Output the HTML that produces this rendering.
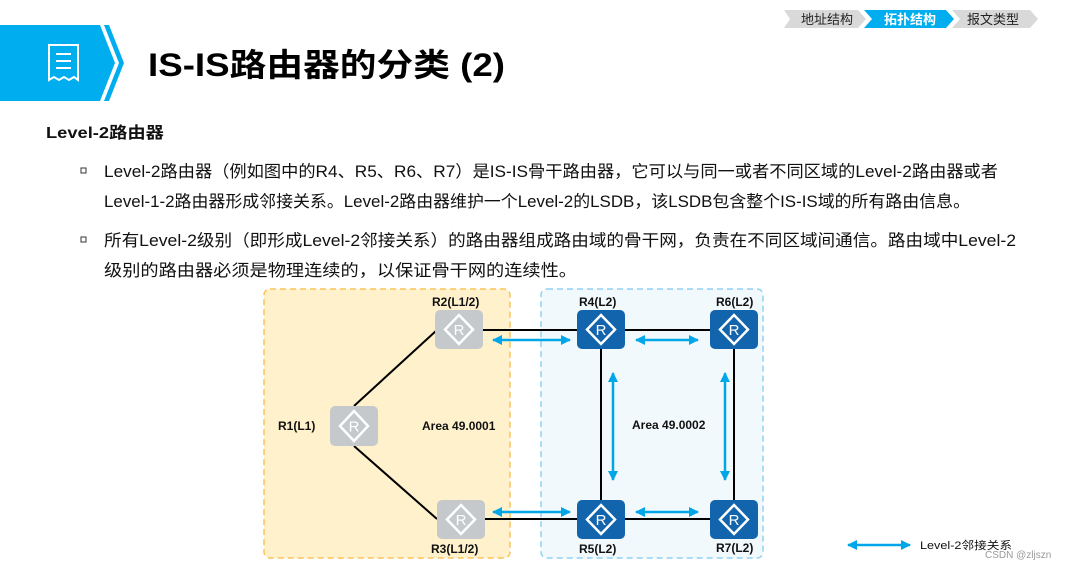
<!DOCTYPE html>
<html><head><meta charset="utf-8"><style>
body{margin:0;width:1071px;height:570px;overflow:hidden;background:#fff;position:relative;font-family:"Liberation Sans","Noto Sans CJK SC",sans-serif;}
</style></head><body>
<svg width="1071" height="570" style="position:absolute;left:0;top:0" font-family="Liberation Sans, Noto Sans CJK SC, sans-serif">
<!-- breadcrumb -->
<polygon points="784,10 858,10 866,19 858,28 784,28 790,19" fill="#d9d9d9"/>
<polygon points="864,10 946,10 954,19 946,28 864,28 872,19" fill="#00aeef"/>
<polygon points="952,10 1030,10 1038,19 1030,28 952,28 960,19" fill="#d9d9d9"/>
<text x="801" y="24" font-size="13" fill="#222">地址结构</text>
<text x="884" y="24" font-size="13" fill="#fff" font-weight="bold">拓扑结构</text>
<text x="967" y="24" font-size="13" fill="#222">报文类型</text>
<!-- header -->
<polygon points="0,25 100,25 115,63 100,101 0,101" fill="#00aeef"/>
<polygon points="104,25 109,25 124,63 109,101 104,101 119,63" fill="#00aeef"/>
<path d="M49,45 h29 v35 l-4,-3 -5,3 -5,-3 -5,3 -5,-3 -5,3 z" fill="none" stroke="#fff" stroke-width="2"/>
<line x1="56" y1="54" x2="71" y2="54" stroke="#fff" stroke-width="2"/>
<line x1="56" y1="61" x2="71" y2="61" stroke="#fff" stroke-width="2"/>
<line x1="56" y1="68" x2="71" y2="68" stroke="#fff" stroke-width="2"/>
<text x="148" y="76" font-size="32" font-weight="bold" fill="#000" textLength="357" lengthAdjust="spacingAndGlyphs">IS-IS路由器的分类 (2)</text>
<!-- body text -->
<text x="46" y="138" font-size="16" font-weight="bold" fill="#111" textLength="118" lengthAdjust="spacingAndGlyphs">Level-2路由器</text>
<rect x="81" y="168" width="5" height="5" fill="none" stroke="#333" stroke-width="1"/>
<rect x="81" y="237" width="5" height="5" fill="none" stroke="#333" stroke-width="1"/>
<g font-size="16.5" fill="#111">
<text x="104" y="177" textLength="894" lengthAdjust="spacingAndGlyphs">Level-2路由器（例如图中的R4、R5、R6、R7）是IS-IS骨干路由器，它可以与同一或者不同区域的Level-2路由器或者</text>
<text x="104" y="207" textLength="866" lengthAdjust="spacingAndGlyphs">Level-1-2路由器形成邻接关系。Level-2路由器维护一个Level-2的LSDB，该LSDB包含整个IS-IS域的所有路由信息。</text>
<text x="104" y="246" textLength="912" lengthAdjust="spacingAndGlyphs">所有Level-2级别（即形成Level-2邻接关系）的路由器组成路由域的骨干网，负责在不同区域间通信。路由域中Level-2</text>
<text x="104" y="276" textLength="473" lengthAdjust="spacingAndGlyphs">级别的路由器必须是物理连续的，以保证骨干网的连续性。</text>
</g>
<!-- areas -->
<rect x="264" y="289" width="246" height="269" rx="6" fill="#fff1cc" stroke="#fbc35a" stroke-width="1.5" stroke-dasharray="6,4"/>
<rect x="541" y="289" width="222" height="269" rx="6" fill="#f2f9fd" stroke="#8fd3f4" stroke-width="1.5" stroke-dasharray="6,4"/>
<!-- lines -->
<g stroke="#000" stroke-width="2">
<line x1="354" y1="406" x2="437" y2="330"/><line x1="354" y1="446" x2="437" y2="519"/>
<line x1="483" y1="330" x2="710" y2="330"/><line x1="483" y1="519" x2="710" y2="519"/>
<line x1="601" y1="348" x2="601" y2="500"/><line x1="734" y1="348" x2="734" y2="500"/>
</g>
<defs><marker id="a" viewBox="0 0 10 10" refX="9" refY="5" markerWidth="4" markerHeight="4" orient="auto-start-reverse"><path d="M0,0 L10,5 L0,10 z" fill="#00a6e8"/></marker></defs>
<g stroke="#00a6e8" stroke-width="2.5" marker-start="url(#a)" marker-end="url(#a)">
<line x1="493" y1="340" x2="570" y2="340"/><line x1="636" y1="340" x2="698" y2="340"/>
<line x1="493" y1="512" x2="570" y2="512"/><line x1="636" y1="512" x2="698" y2="512"/>
<line x1="613" y1="373" x2="613" y2="480"/><line x1="725" y1="373" x2="725" y2="480"/>
<line x1="848" y1="545" x2="910" y2="545"/>
</g>
<!-- routers -->
<g transform="translate(435,310)"><rect width="48" height="39" rx="5" fill="#c5c9cb"/><polygon points="24,5 38,19.5 24,34 10,19.5" fill="none" stroke="#fff" stroke-width="2.5"/><text x="24" y="25" font-size="15" fill="#fff" text-anchor="middle">R</text></g>
<g transform="translate(330,406)"><rect width="48" height="40" rx="5" fill="#c5c9cb"/><polygon points="24,5 38,20 24,35 10,20" fill="none" stroke="#fff" stroke-width="2.5"/><text x="24" y="25.5" font-size="15" fill="#fff" text-anchor="middle">R</text></g>
<g transform="translate(437,500)"><rect width="48" height="39" rx="5" fill="#c5c9cb"/><polygon points="24,5 38,19.5 24,34 10,19.5" fill="none" stroke="#fff" stroke-width="2.5"/><text x="24" y="25" font-size="15" fill="#fff" text-anchor="middle">R</text></g>
<g transform="translate(577,310)"><rect width="48" height="39" rx="5" fill="#1264ad"/><polygon points="24,5 38,19.5 24,34 10,19.5" fill="none" stroke="#fff" stroke-width="2.5"/><text x="24" y="25" font-size="15" fill="#fff" text-anchor="middle">R</text></g>
<g transform="translate(710,310)"><rect width="48" height="39" rx="5" fill="#1264ad"/><polygon points="24,5 38,19.5 24,34 10,19.5" fill="none" stroke="#fff" stroke-width="2.5"/><text x="24" y="25" font-size="15" fill="#fff" text-anchor="middle">R</text></g>
<g transform="translate(577,500)"><rect width="48" height="39" rx="5" fill="#1264ad"/><polygon points="24,5 38,19.5 24,34 10,19.5" fill="none" stroke="#fff" stroke-width="2.5"/><text x="24" y="25" font-size="15" fill="#fff" text-anchor="middle">R</text></g>
<g transform="translate(710,500)"><rect width="48" height="39" rx="5" fill="#1264ad"/><polygon points="24,5 38,19.5 24,34 10,19.5" fill="none" stroke="#fff" stroke-width="2.5"/><text x="24" y="25" font-size="15" fill="#fff" text-anchor="middle">R</text></g>
<g font-size="12" font-weight="bold" fill="#111">
<text x="432" y="306">R2(L1/2)</text><text x="579" y="306">R4(L2)</text><text x="716" y="306">R6(L2)</text>
<text x="278" y="430">R1(L1)</text><text x="422" y="430">Area 49.0001</text><text x="632" y="429">Area 49.0002</text>
<text x="431" y="553">R3(L1/2)</text><text x="579" y="553">R5(L2)</text><text x="716" y="552">R7(L2)</text>
</g>
<text x="920" y="549" font-size="11" fill="#111" textLength="92" lengthAdjust="spacingAndGlyphs">Level-2邻接关系</text>
<text x="985" y="558" font-size="10" fill="#999">CSDN @zljszn</text>
</svg>
</body></html>
